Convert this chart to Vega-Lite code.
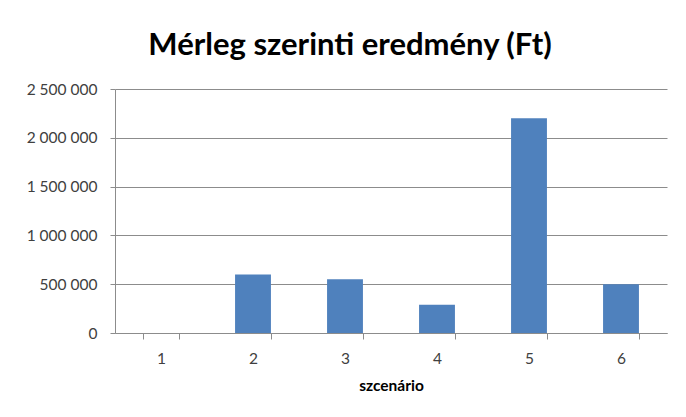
{
  "$schema": "https://vega.github.io/schema/vega-lite/v6.json",
  "autosize": {"type": "none"},
  "width": 552,
  "height": 244,
  "padding": {"left": 115, "top": 89, "right": 19, "bottom": 84},
  "background": "white",
  "title": {
    "text": "Mérleg szerinti eredmény (Ft)",
    "font": "Lato",
    "fontSize": 31,
    "fontWeight": "bold",
    "color": "#000000",
    "anchor": "middle",
    "baseline": "alphabetic",
    "offset": -4,
    "dx": -41
  },
  "config": {
    "view": {"stroke": null}
  },
  "data": {
    "values": [
      {"szcenario": "1", "eredmeny": 0},
      {"szcenario": "2", "eredmeny": 600000},
      {"szcenario": "3", "eredmeny": 550000},
      {"szcenario": "4", "eredmeny": 290000},
      {"szcenario": "5", "eredmeny": 2200000},
      {"szcenario": "6", "eredmeny": 500000}
    ]
  },
  "mark": {"type": "bar", "color": "#4F81BD"},
  "encoding": {
    "x": {
      "field": "szcenario",
      "type": "ordinal",
      "sort": null,
      "scale": {"paddingInner": 0.61, "paddingOuter": 0.305},
      "axis": {
        "title": "szcenário",
        "titleFont": "Lato",
        "titleFontSize": 15.5,
        "titleFontWeight": "bold",
        "titleColor": "#000000",
        "titlePadding": 12,
        "labelAngle": 0,
        "labelFont": "Lato",
        "labelFontSize": 15.5,
        "labelColor": "#404040",
        "labelPadding": 12,
        "tickBand": "extent",
        "tickSize": 6,
        "tickColor": "#8c8c8c",
        "domainColor": "#8c8c8c",
        "grid": false
      }
    },
    "y": {
      "field": "eredmeny",
      "type": "quantitative",
      "scale": {"domain": [0, 2500000], "nice": false},
      "axis": {
        "title": null,
        "values": [0, 500000, 1000000, 1500000, 2000000, 2500000],
        "labelExpr": "replace(format(datum.value, ','), /,/g, ' ')",
        "labelFont": "Lato",
        "labelFontSize": 15.5,
        "labelColor": "#404040",
        "labelPadding": 13,
        "tickSize": 5,
        "tickColor": "#8c8c8c",
        "domainColor": "#8c8c8c",
        "grid": true,
        "gridColor": "#8c8c8c",
        "gridOpacity": 1
      }
    }
  }
}
